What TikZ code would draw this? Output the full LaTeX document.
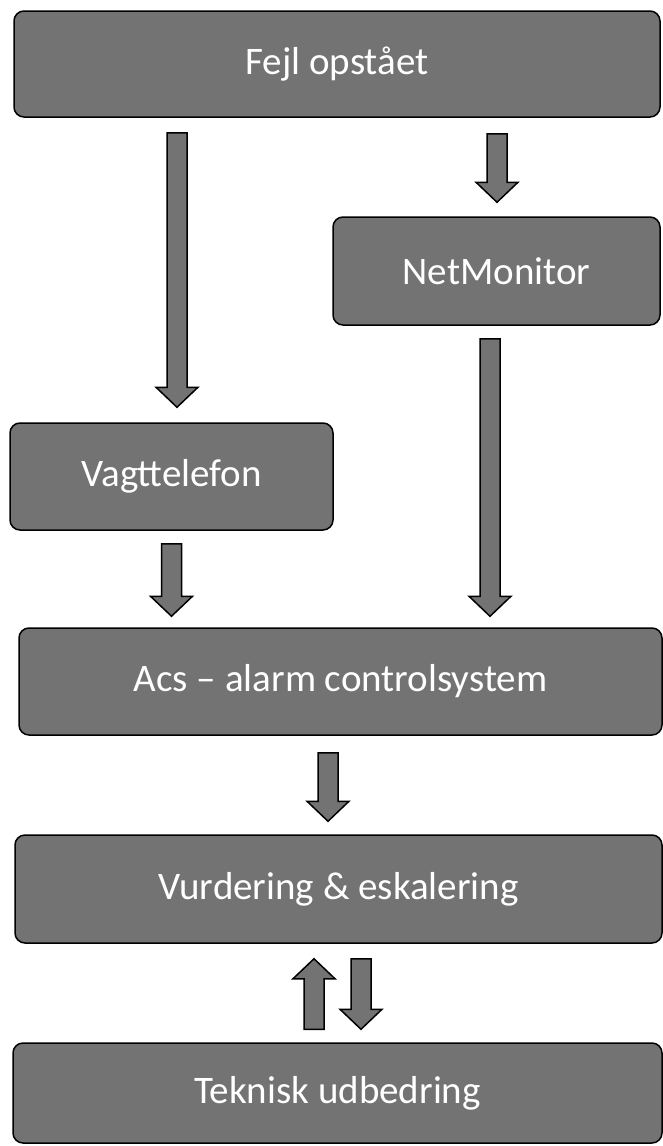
\documentclass[tikz,border=0pt]{standalone}
\usepackage{fontspec}
\setmainfont{Carlito}
\usetikzlibrary{calc}
\tikzset{
  box/.style={draw=black, line width=1.5pt, fill=black!55, rounded corners=10pt,
    inner sep=0pt, text=white, font=\fontsize{39pt}{40pt}\selectfont},
  blockarrow/.style={draw=black, line width=1.5pt, fill=black!55, line join=miter,
    to path={
      ($(\tikztostart)!10pt!90:(\tikztotarget)$)
      -- ($($(\tikztotarget)!20pt!(\tikztostart)$)!10pt!90:(\tikztotarget)$)
      -- ($($(\tikztotarget)!20pt!(\tikztostart)$)!21pt!90:(\tikztotarget)$)
      -- (\tikztotarget)
      -- ($($(\tikztotarget)!20pt!(\tikztostart)$)!21pt!-90:(\tikztotarget)$)
      -- ($($(\tikztotarget)!20pt!(\tikztostart)$)!10pt!-90:(\tikztotarget)$)
      -- ($(\tikztostart)!10pt!-90:(\tikztotarget)$)
      -- cycle}}
}
\begin{document}
\begin{tikzpicture}[x=1pt,y=-1pt]
\useasboundingbox (0,0) rectangle (663,1146);
\node[box, minimum width=646pt, minimum height=106pt] (fejl) at (337,64) {Fejl opstået};
\node[box, minimum width=327pt, minimum height=108pt] (netm) at (496.5,271) {NetMonitor};
\node[box, minimum width=323pt, minimum height=107pt] (vagt) at (171.5,476.5) {Vagttelefon};
\node[box, minimum width=643pt, minimum height=107pt] (acs) at (340.5,681.5) {Acs – alarm controlsystem};
\node[box, minimum width=647pt, minimum height=108pt] (vurd) at (338.5,889) {Vurdering \& eskalering};
\node[box, minimum width=649pt, minimum height=100pt] (tekn) at (337.5,1093) {Teknisk udbedring};

\draw[blockarrow] ($(fejl.south)+(-160,15)$) to ($(vagt.north)+(5.5,-15)$);
\draw[blockarrow] ($(fejl.south)+(160,16)$) to ($(netm.north)+(0.5,-14)$);
\draw[blockarrow] ($(netm.south)+(-6.5,13)$) to ($(acs.north)+(149.5,-11)$);
\draw[blockarrow] ($(vagt.south)+(0,13)$) to ($(acs.north)+(-169,-11)$);
\draw[blockarrow] ($(acs.south)+(-12.5,17)$) to ($(vurd.north)+(-10.5,-13)$);
\draw[blockarrow] ($(tekn.north)+(-23.5,-13)$) to ($(vurd.south)+(-24.5,15)$);
\draw[blockarrow] ($(vurd.south)+(22.5,15)$) to ($(tekn.north)+(23.5,-13)$);
\end{tikzpicture}
\end{document}
